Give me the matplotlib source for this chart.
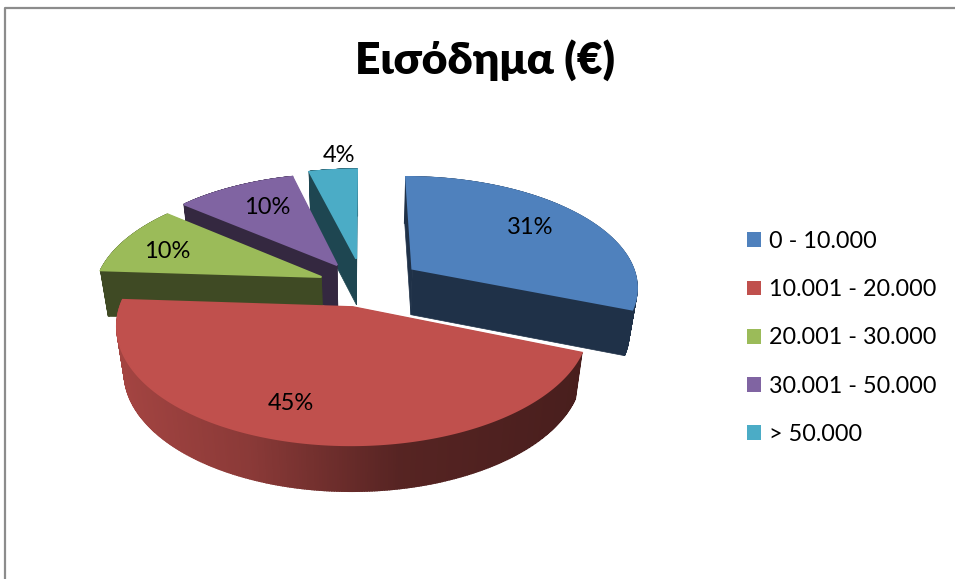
import numpy as np
import matplotlib
matplotlib.use('Agg')
import matplotlib.pyplot as plt
from matplotlib.patches import Patch

categories = ['0 - 10.000', '10.001 - 20.000', '20.001 - 30.000', '30.001 - 50.000', '> 50.000']
values = [31, 45, 10, 10, 4]
explode = [0.27, 0.20, 0.20, 0.22, 0.25]
colors = ['#4f81bd', '#c0504d', '#9bbb59', '#8064a2', '#4bacc6']
darks = ['#1f3148', '#4a1b19', '#3f4a24', '#342840', '#1e4651']
label_pos = [(530, 228), (291, 404), (167, 251), (267, 208), (339, 156)]

plt.rcParams['font.family'] = ['Lato', 'Noto Sans', 'DejaVu Sans']

# perspective du camembert, en pixels de l'image
cx, cy = 363, 285
A, B, k = 226, 110, 0.15
depth = 46


def project(u, v):
    w = 1 + k * v
    return cx + A * u / w, cy - B * v / w


def bottom(x, y):
    return cx + (x - cx) * 0.97, y + depth


fig = plt.figure(figsize=(9.55, 5.79), dpi=100)
ax = fig.add_axes([0, 0, 1, 1])
ax.set_xlim(0, 955)
ax.set_ylim(579, 0)
ax.axis('off')

# bord du graphique
ax.plot([5, 5, 955], [579, 8, 8], color='#8c8c8c', lw=1.6)

total = sum(values)
edges = np.cumsum([0] + values) / total * 2 * np.pi
slices = []
for i in range(len(values)):
    mid = (edges[i] + edges[i + 1]) / 2
    ex, ey = explode[i] * np.sin(mid), explode[i] * np.cos(mid)
    t = np.linspace(edges[i], edges[i + 1], 300)
    x, y = project(ex + np.sin(t), ey + np.cos(t))
    ax_, ay_ = project(ex, ey)
    slices.append((i, x, y, ax_, ay_))

# du fond vers l'avant
for i, x, y, px, py in [slices[j] for j in (4, 3, 2, 0, 1)]:
    xb, yb = bottom(x, y)
    pxb, pyb = bottom(px, py)
    # faces de coupe
    ax.fill([px, x[0], xb[0], pxb], [py, y[0], yb[0], pyb], color=darks[i], lw=0.5)
    ax.fill([px, x[-1], xb[-1], pxb], [py, y[-1], yb[-1], pyb], color=darks[i], lw=0.5)
    # bord extérieur
    for j in range(len(x) - 1):
        if i == 1:
            f = np.interp(x[j], [120, 250, 400, 578], [0.85, 0.72, 0.45, 0.38])
            c = np.array(matplotlib.colors.to_rgb(colors[i])) * f
        else:
            c = darks[i]
        ax.fill([x[j], x[j + 1], xb[j + 1], xb[j]], [y[j], y[j + 1], yb[j + 1], yb[j]],
                color=c, lw=1.2)
    # dessus
    ax.fill(np.r_[px, x], np.r_[py, y], color=colors[i], lw=1.4)

for i in range(len(values)):
    ax.text(label_pos[i][0], label_pos[i][1], '%d%%' % values[i], fontsize=17, color='black',
            ha='center', va='center', zorder=20)

ax.text(485, 60, 'Εισόδημα (€)', fontsize=32, fontweight='heavy', color='black',
        ha='center', va='center', zorder=20)

handles = [Patch(facecolor=c, edgecolor='none', label=n) for c, n in zip(colors, categories)]
ax.legend(handles=handles, loc='center left', bbox_to_anchor=(747, 338), bbox_transform=ax.transData,
          frameon=False, fontsize=16.8, handlelength=0.6, handleheight=0.6, handletextpad=0.36,
          labelspacing=1.17, borderpad=0, borderaxespad=0)

fig.savefig('out.png', dpi=100)
